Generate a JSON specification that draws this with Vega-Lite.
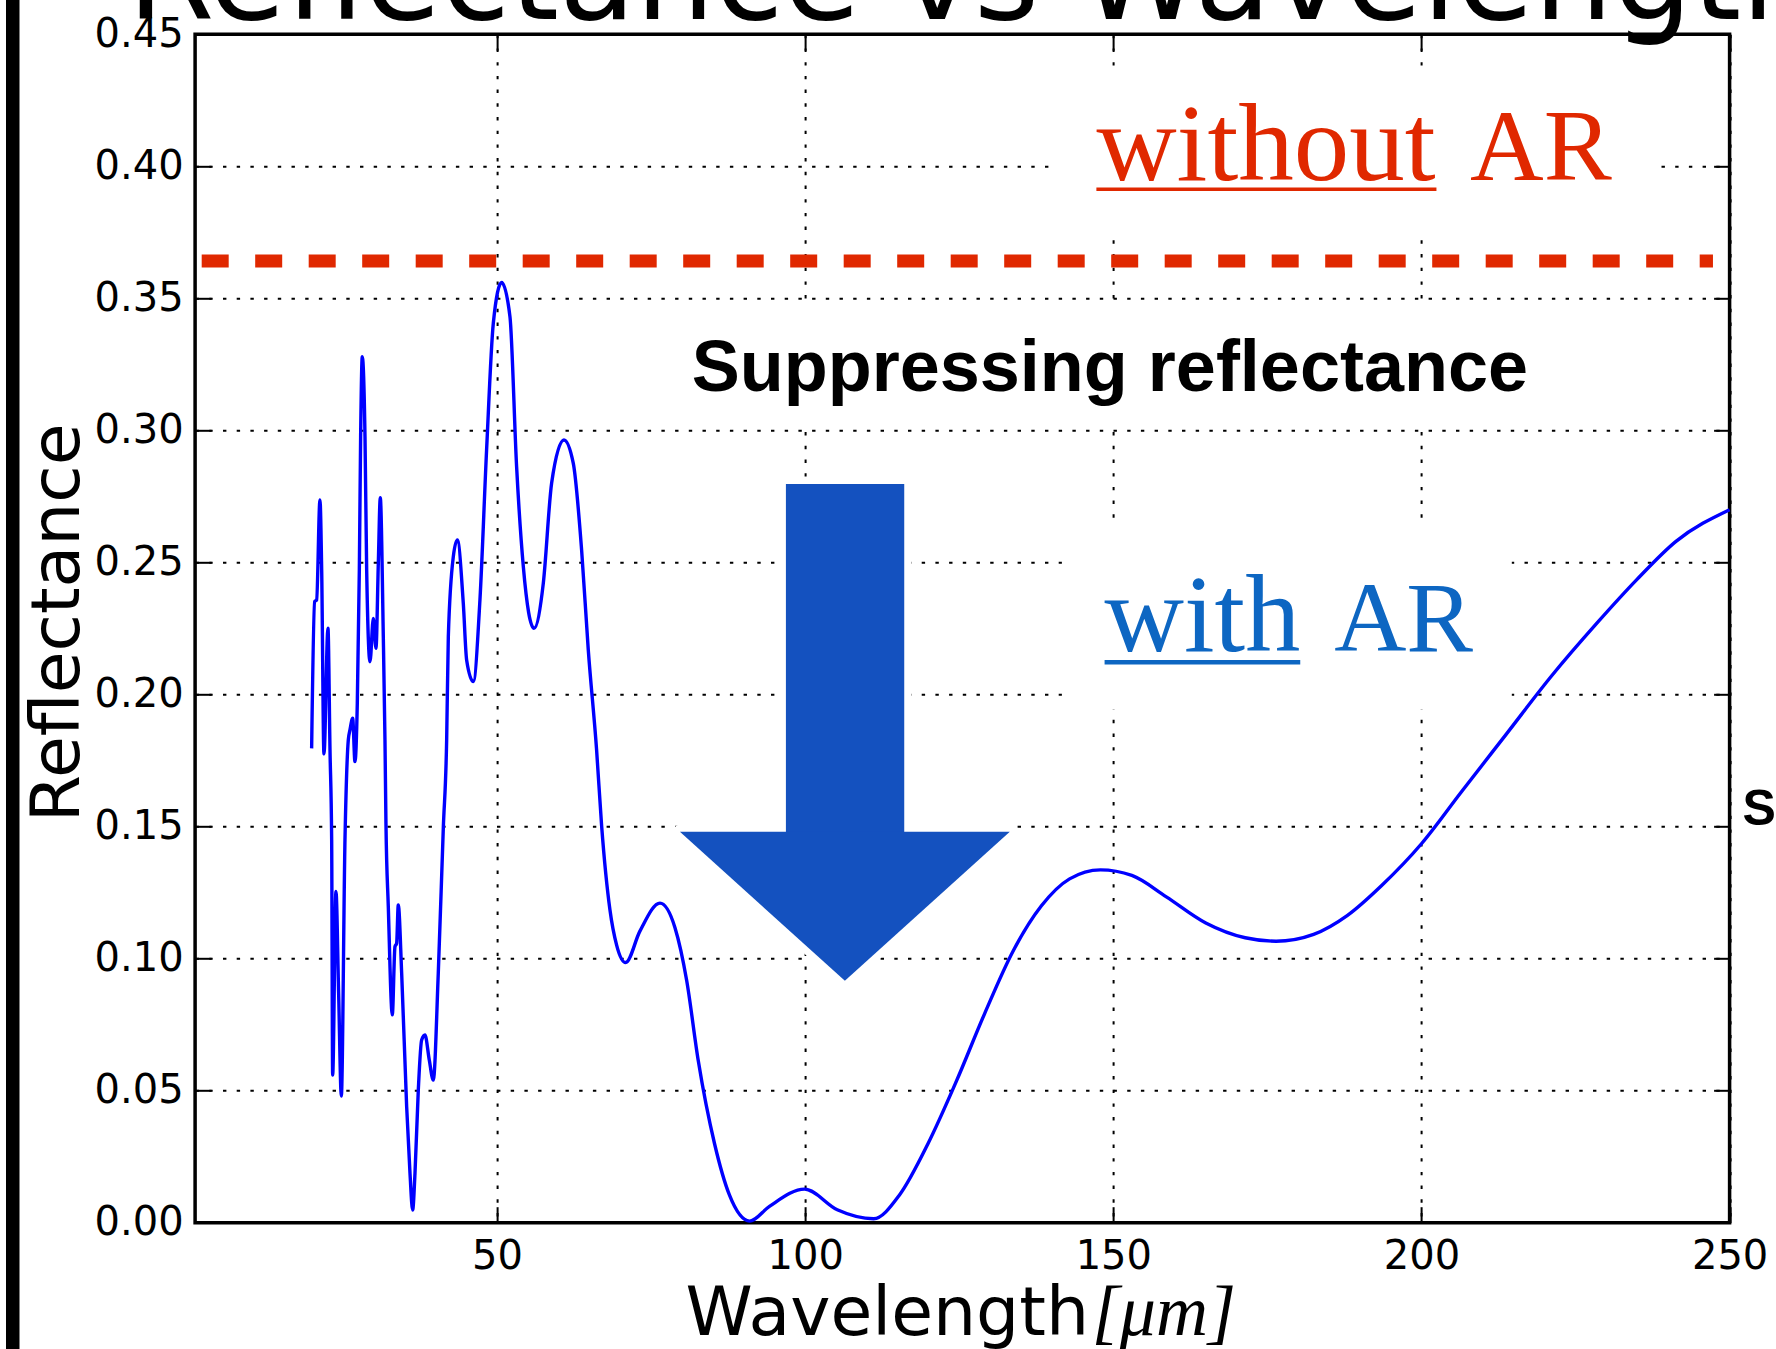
{
  "$schema": "https://vega.github.io/schema/vega-lite/v6.json",
  "autosize": {"type": "none"},
  "width": 1534.5,
  "height": 1188.4,
  "padding": {"left": 195.1, "top": 34.3, "right": 46.4, "bottom": 126.3},
  "background": "white",
  "config": {
    "view": {"stroke": "black", "strokeWidth": 3.5},
    "axis": {
      "domain": false,
      "tickColor": "black",
      "tickWidth": 2,
      "tickSize": -16,
      "gridColor": "black",
      "gridOpacity": 1,
      "gridWidth": 2,
      "gridDash": [3.4, 10.3],
      "labelFont": "DejaVu Sans",
      "labelFontSize": 40,
      "labelColor": "black",
      "labelFlush": false,
      "labelOverlap": false,
      "titleFont": "DejaVu Sans",
      "titleFontSize": 68,
      "titleFontWeight": "normal",
      "titleColor": "black"
    }
  },
  "datasets": {
    "one": [{}],
    "curve": [
      {"wavelength": 19.91, "reflectance": 0.1796},
      {"wavelength": 20.4, "reflectance": 0.2352},
      {"wavelength": 20.72, "reflectance": 0.2358},
      {"wavelength": 21.26, "reflectance": 0.2737},
      {"wavelength": 21.54, "reflectance": 0.2472},
      {"wavelength": 21.91, "reflectance": 0.1775},
      {"wavelength": 22.56, "reflectance": 0.2251},
      {"wavelength": 22.89, "reflectance": 0.179},
      {"wavelength": 23.16, "reflectance": 0.145},
      {"wavelength": 23.32, "reflectance": 0.0559},
      {"wavelength": 23.86, "reflectance": 0.1254},
      {"wavelength": 24.29, "reflectance": 0.0869},
      {"wavelength": 24.73, "reflectance": 0.048},
      {"wavelength": 25.32, "reflectance": 0.1449},
      {"wavelength": 25.86, "reflectance": 0.1828},
      {"wavelength": 26.13, "reflectance": 0.1866},
      {"wavelength": 26.57, "reflectance": 0.191},
      {"wavelength": 26.94, "reflectance": 0.1746},
      {"wavelength": 27.32, "reflectance": 0.1967},
      {"wavelength": 27.65, "reflectance": 0.2472},
      {"wavelength": 27.86, "reflectance": 0.2976},
      {"wavelength": 28.13, "reflectance": 0.3279},
      {"wavelength": 28.57, "reflectance": 0.2976},
      {"wavelength": 28.84, "reflectance": 0.2472},
      {"wavelength": 29.38, "reflectance": 0.2124},
      {"wavelength": 29.92, "reflectance": 0.2288},
      {"wavelength": 30.35, "reflectance": 0.2175},
      {"wavelength": 30.73, "reflectance": 0.2497},
      {"wavelength": 31.05, "reflectance": 0.2745},
      {"wavelength": 31.54, "reflectance": 0.2219},
      {"wavelength": 31.81, "reflectance": 0.1828},
      {"wavelength": 31.97, "reflectance": 0.1512},
      {"wavelength": 32.35, "reflectance": 0.1197},
      {"wavelength": 33.0, "reflectance": 0.0787},
      {"wavelength": 33.43, "reflectance": 0.1045},
      {"wavelength": 33.7, "reflectance": 0.1058},
      {"wavelength": 33.97, "reflectance": 0.1203},
      {"wavelength": 34.52, "reflectance": 0.0944},
      {"wavelength": 35.33, "reflectance": 0.0439},
      {"wavelength": 35.87, "reflectance": 0.0187},
      {"wavelength": 36.3, "reflectance": 0.0048},
      {"wavelength": 36.68, "reflectance": 0.0187},
      {"wavelength": 37.22, "reflectance": 0.0503},
      {"wavelength": 37.76, "reflectance": 0.0692},
      {"wavelength": 38.3, "reflectance": 0.0711},
      {"wavelength": 39.0, "reflectance": 0.0616},
      {"wavelength": 39.65, "reflectance": 0.054},
      {"wavelength": 40.46, "reflectance": 0.0945},
      {"wavelength": 41.28, "reflectance": 0.1497},
      {"wavelength": 41.82, "reflectance": 0.1828},
      {"wavelength": 42.09, "reflectance": 0.2219},
      {"wavelength": 42.9, "reflectance": 0.2522},
      {"wavelength": 43.55, "reflectance": 0.2585},
      {"wavelength": 44.52, "reflectance": 0.2345},
      {"wavelength": 45.06, "reflectance": 0.2131},
      {"wavelength": 46.14, "reflectance": 0.2049},
      {"wavelength": 47.22, "reflectance": 0.2358},
      {"wavelength": 48.3, "reflectance": 0.2926},
      {"wavelength": 49.39, "reflectance": 0.3406},
      {"wavelength": 50.74, "reflectance": 0.356},
      {"wavelength": 52.09, "reflectance": 0.3431},
      {"wavelength": 53.17, "reflectance": 0.2863},
      {"wavelength": 54.26, "reflectance": 0.2484},
      {"wavelength": 55.99, "reflectance": 0.2251},
      {"wavelength": 57.5, "reflectance": 0.2421},
      {"wavelength": 58.85, "reflectance": 0.28},
      {"wavelength": 60.85, "reflectance": 0.2964},
      {"wavelength": 62.37, "reflectance": 0.2875},
      {"wavelength": 63.72, "reflectance": 0.2547},
      {"wavelength": 64.8, "reflectance": 0.2169},
      {"wavelength": 66.15, "reflectance": 0.179},
      {"wavelength": 66.97, "reflectance": 0.1502},
      {"wavelength": 68.32, "reflectance": 0.1184},
      {"wavelength": 69.4, "reflectance": 0.1051},
      {"wavelength": 70.86, "reflectance": 0.0985},
      {"wavelength": 73.18, "reflectance": 0.1104},
      {"wavelength": 76.43, "reflectance": 0.121},
      {"wavelength": 78.87, "reflectance": 0.1117},
      {"wavelength": 80.76, "reflectance": 0.0918},
      {"wavelength": 82.65, "reflectance": 0.0613},
      {"wavelength": 85.3, "reflectance": 0.0298},
      {"wavelength": 87.7, "reflectance": 0.0105},
      {"wavelength": 91.0, "reflectance": 0.0006},
      {"wavelength": 94.2, "reflectance": 0.0062},
      {"wavelength": 99.9, "reflectance": 0.0127},
      {"wavelength": 105.2, "reflectance": 0.0049},
      {"wavelength": 111.1, "reflectance": 0.0015},
      {"wavelength": 115.3, "reflectance": 0.0105},
      {"wavelength": 119.9, "reflectance": 0.0298},
      {"wavelength": 124.5, "reflectance": 0.0534},
      {"wavelength": 129.1, "reflectance": 0.0791},
      {"wavelength": 133.7, "reflectance": 0.1027},
      {"wavelength": 138.3, "reflectance": 0.1199},
      {"wavelength": 142.9, "reflectance": 0.1302},
      {"wavelength": 147.9, "reflectance": 0.1336},
      {"wavelength": 153.0, "reflectance": 0.1315},
      {"wavelength": 158.6, "reflectance": 0.1234},
      {"wavelength": 165.0, "reflectance": 0.1135},
      {"wavelength": 171.4, "reflectance": 0.1079},
      {"wavelength": 176.4, "reflectance": 0.1066},
      {"wavelength": 182.5, "reflectance": 0.1092},
      {"wavelength": 188.0, "reflectance": 0.1164},
      {"wavelength": 193.5, "reflectance": 0.1276},
      {"wavelength": 200.0, "reflectance": 0.1435},
      {"wavelength": 206.4, "reflectance": 0.1629},
      {"wavelength": 213.8, "reflectance": 0.1851},
      {"wavelength": 221.1, "reflectance": 0.207},
      {"wavelength": 228.5, "reflectance": 0.2271},
      {"wavelength": 234.9, "reflectance": 0.2434},
      {"wavelength": 241.3, "reflectance": 0.258},
      {"wavelength": 250.0, "reflectance": 0.27}
    ],
    "arrowHead": [
      {"wavelength": 79.67, "base": 0.148, "edge": 0.148},
      {"wavelength": 106.44, "base": 0.148, "edge": 0.0916},
      {"wavelength": 133.2, "base": 0.148, "edge": 0.148}
    ]
  },
  "resolve": {"axis": {"x": "independent", "y": "independent"}},
  "layer": [
    {
      "data": {"name": "one"},
      "mark": {"type": "rule", "color": "black", "strokeWidth": 13.5, "clip": false},
      "encoding": {
        "x": {"datum": -28.59, "type": "quantitative", "scale": {"domain": [1, 250], "nice": false, "zero": false}, "axis": null},
        "y": {"datum": -0.06, "type": "quantitative", "scale": {"domain": [0, 0.45], "nice": false}, "axis": null},
        "y2": {"datum": 0.48}
      }
    },
    {
      "data": {"name": "one"},
      "mark": {"type": "rect", "fill": "white", "stroke": null},
      "encoding": {
        "x": {"datum": 139.7, "type": "quantitative", "scale": {"domain": [1, 250], "nice": false, "zero": false}, "axis": null},
        "x2": {"datum": 237.5},
        "y": {"datum": 0.4376, "type": "quantitative", "scale": {"domain": [0, 0.45], "nice": false}, "axis": null},
        "y2": {"datum": 0.3759}
      }
    },
    {
      "data": {"name": "one"},
      "mark": {"type": "rect", "fill": "white", "stroke": null},
      "encoding": {
        "x": {"datum": 141.65, "type": "quantitative", "scale": {"domain": [1, 250], "nice": false, "zero": false}, "axis": null},
        "x2": {"datum": 214.66},
        "y": {"datum": 0.2649, "type": "quantitative", "scale": {"domain": [0, 0.45], "nice": false}, "axis": null},
        "y2": {"datum": 0.1943}
      }
    },
    {
      "data": {"name": "one"},
      "mark": {"type": "rect", "fill": "white", "stroke": null},
      "encoding": {
        "x": {"datum": 78.9, "type": "quantitative", "scale": {"domain": [1, 250], "nice": false, "zero": false}, "axis": null},
        "x2": {"datum": 222.5},
        "y": {"datum": 0.3475, "type": "quantitative", "scale": {"domain": [0, 0.45], "nice": false}, "axis": null},
        "y2": {"datum": 0.302}
      }
    },
    {
      "data": {"name": "one"},
      "mark": {"type": "rect", "fill": "white", "stroke": "white", "strokeWidth": 14, "strokeJoin": "round"},
      "encoding": {
        "x": {"datum": 96.87, "type": "quantitative", "scale": {"domain": [1, 250], "nice": false, "zero": false}, "axis": null},
        "x2": {"datum": 116.07},
        "y": {"datum": 0.2797, "type": "quantitative", "scale": {"domain": [0, 0.45], "nice": false}, "axis": null},
        "y2": {"datum": 0.14}
      }
    },
    {
      "data": {"name": "arrowHead"},
      "mark": {"type": "area", "fill": "white", "stroke": "white", "strokeWidth": 14, "strokeJoin": "round", "interpolate": "linear"},
      "encoding": {
        "x": {"field": "wavelength", "type": "quantitative", "scale": {"domain": [1, 250], "nice": false, "zero": false}, "axis": null},
        "y": {"field": "base", "type": "quantitative", "scale": {"domain": [0, 0.45], "nice": false}, "axis": null},
        "y2": {"field": "edge"}
      }
    },
    {
      "data": {"name": "one"},
      "mark": {"type": "rect", "fill": "#1451bf", "stroke": null},
      "encoding": {
        "x": {"datum": 96.87, "type": "quantitative", "scale": {"domain": [1, 250], "nice": false, "zero": false}, "axis": null},
        "x2": {"datum": 116.07},
        "y": {"datum": 0.2797, "type": "quantitative", "scale": {"domain": [0, 0.45], "nice": false}, "axis": null},
        "y2": {"datum": 0.146}
      }
    },
    {
      "data": {"name": "arrowHead"},
      "mark": {"type": "area", "fill": "#1451bf", "interpolate": "linear"},
      "encoding": {
        "x": {"field": "wavelength", "type": "quantitative", "scale": {"domain": [1, 250], "nice": false, "zero": false}, "axis": null},
        "y": {"field": "base", "type": "quantitative", "scale": {"domain": [0, 0.45], "nice": false}, "axis": null},
        "y2": {"field": "edge"}
      }
    },
    {
      "data": {"name": "one"},
      "mark": {"type": "rule", "color": "#e02800", "strokeWidth": 13, "strokeDash": [27, 26.5], "strokeCap": "butt"},
      "encoding": {
        "x": {"datum": 2.07, "type": "quantitative", "scale": {"domain": [1, 250], "nice": false, "zero": false}, "axis": null},
        "x2": {"datum": 247.3},
        "y": {"datum": 0.3642, "type": "quantitative", "scale": {"domain": [0, 0.45], "nice": false}, "axis": null}
      }
    },
    {
      "data": {"name": "curve"},
      "mark": {"type": "line", "color": "#0000ff", "strokeWidth": 3.4, "interpolate": "monotone"},
      "encoding": {
        "x": {
          "field": "wavelength", "type": "quantitative",
          "scale": {"domain": [1, 250], "nice": false, "zero": false},
          "axis": {
            "orient": "bottom", "values": [50, 100, 150, 200, 250], "labelPadding": 30, "grid": true,
            "title": "Wavelength", "titleAnchor": "start", "titleAlign": "left", "titleBaseline": "alphabetic",
            "titleX": 490, "titleY": 112
          }
        },
        "y": {
          "field": "reflectance", "type": "quantitative",
          "scale": {"domain": [0, 0.45], "nice": false},
          "axis": {
            "orient": "left", "values": [0, 0.05, 0.1, 0.15, 0.2, 0.25, 0.3, 0.35, 0.4, 0.45], "format": ".2f",
            "labelPadding": 28, "grid": true,
            "title": "Reflectance", "titleAngle": 270, "titleAlign": "center", "titleBaseline": "alphabetic",
            "titleX": -117, "titleY": 588
          }
        }
      }
    },
    {
      "data": {"name": "curve"},
      "mark": {"type": "point", "opacity": 0},
      "encoding": {
        "x": {
          "field": "wavelength", "type": "quantitative",
          "scale": {"domain": [1, 250], "nice": false, "zero": false},
          "axis": {"orient": "top", "values": [50, 100, 150, 200, 250], "labels": false, "title": null, "grid": false}
        },
        "y": {
          "field": "reflectance", "type": "quantitative",
          "scale": {"domain": [0, 0.45], "nice": false},
          "axis": {"orient": "right", "values": [0, 0.05, 0.1, 0.15, 0.2, 0.25, 0.3, 0.35, 0.4, 0.45], "labels": false, "title": null, "grid": false}
        }
      }
    },
    {
      "data": {"name": "one"},
      "mark": {"type": "text", "text": "without", "font": "Liberation Serif", "fontSize": 111, "color": "#e02800", "align": "left", "baseline": "alphabetic"},
      "encoding": {
        "x": {"datum": 147.25, "type": "quantitative", "scale": {"domain": [1, 250], "nice": false, "zero": false}, "axis": null},
        "y": {"datum": 0.3948, "type": "quantitative", "scale": {"domain": [0, 0.45], "nice": false}, "axis": null}
      }
    },
    {
      "data": {"name": "one"},
      "mark": {"type": "text", "text": "AR", "font": "Liberation Serif", "fontSize": 102, "color": "#e02800", "align": "left", "baseline": "alphabetic"},
      "encoding": {
        "x": {"datum": 207.88, "type": "quantitative", "scale": {"domain": [1, 250], "nice": false, "zero": false}, "axis": null},
        "y": {"datum": 0.3948, "type": "quantitative", "scale": {"domain": [0, 0.45], "nice": false}, "axis": null}
      }
    },
    {
      "data": {"name": "one"},
      "mark": {"type": "rule", "color": "#e02800", "strokeWidth": 3.5},
      "encoding": {
        "x": {"datum": 147.25, "type": "quantitative", "scale": {"domain": [1, 250], "nice": false, "zero": false}, "axis": null},
        "x2": {"datum": 202.43},
        "y": {"datum": 0.3913, "type": "quantitative", "scale": {"domain": [0, 0.45], "nice": false}, "axis": null}
      }
    },
    {
      "data": {"name": "one"},
      "mark": {"type": "text", "text": "with", "font": "Liberation Serif", "fontSize": 110, "color": "#0d66c2", "align": "left", "baseline": "alphabetic"},
      "encoding": {
        "x": {"datum": 148.58, "type": "quantitative", "scale": {"domain": [1, 250], "nice": false, "zero": false}, "axis": null},
        "y": {"datum": 0.2165, "type": "quantitative", "scale": {"domain": [0, 0.45], "nice": false}, "axis": null}
      }
    },
    {
      "data": {"name": "one"},
      "mark": {"type": "text", "text": "AR", "font": "Liberation Serif", "fontSize": 100, "color": "#0d66c2", "align": "left", "baseline": "alphabetic"},
      "encoding": {
        "x": {"datum": 185.83, "type": "quantitative", "scale": {"domain": [1, 250], "nice": false, "zero": false}, "axis": null},
        "y": {"datum": 0.2165, "type": "quantitative", "scale": {"domain": [0, 0.45], "nice": false}, "axis": null}
      }
    },
    {
      "data": {"name": "one"},
      "mark": {"type": "rule", "color": "#0d66c2", "strokeWidth": 4.5},
      "encoding": {
        "x": {"datum": 148.58, "type": "quantitative", "scale": {"domain": [1, 250], "nice": false, "zero": false}, "axis": null},
        "x2": {"datum": 180.33},
        "y": {"datum": 0.2122, "type": "quantitative", "scale": {"domain": [0, 0.45], "nice": false}, "axis": null}
      }
    },
    {
      "data": {"name": "one"},
      "mark": {"type": "text", "text": "Suppressing reflectance", "font": "Liberation Sans", "fontWeight": "bold", "fontSize": 72, "color": "black", "align": "center", "baseline": "alphabetic"},
      "encoding": {
        "x": {"datum": 149.44, "type": "quantitative", "scale": {"domain": [1, 250], "nice": false, "zero": false}, "axis": null},
        "y": {"datum": 0.3149, "type": "quantitative", "scale": {"domain": [0, 0.45], "nice": false}, "axis": null}
      }
    },
    {
      "data": {"name": "one"},
      "mark": {"type": "text", "text": "Si", "font": "Liberation Sans", "fontWeight": "bold", "fontSize": 50, "color": "black", "align": "left", "baseline": "alphabetic"},
      "encoding": {
        "x": {"datum": 252.1, "type": "quantitative", "scale": {"domain": [1, 250], "nice": false, "zero": false}, "axis": null},
        "y": {"datum": 0.1506, "type": "quantitative", "scale": {"domain": [0, 0.45], "nice": false}, "axis": null}
      }
    },
    {
      "data": {"name": "one"},
      "mark": {"type": "text", "text": "[μm]", "font": "Liberation Serif", "fontStyle": "italic", "fontSize": 72, "color": "black", "align": "left", "baseline": "alphabetic"},
      "encoding": {
        "x": {"datum": 146.5, "type": "quantitative", "scale": {"domain": [1, 250], "nice": false, "zero": false}, "axis": null},
        "y": {"datum": -0.0425, "type": "quantitative", "scale": {"domain": [0, 0.45], "nice": false}, "axis": null}
      }
    },
    {
      "data": {"name": "one"},
      "mark": {"type": "text", "text": "Reflectance vs Wavelength", "font": "DejaVu Sans", "fontSize": 125, "color": "black", "align": "left", "baseline": "alphabetic"},
      "encoding": {
        "x": {"datum": -9.98, "type": "quantitative", "scale": {"domain": [1, 250], "nice": false, "zero": false}, "axis": null},
        "y": {"datum": 0.4558, "type": "quantitative", "scale": {"domain": [0, 0.45], "nice": false}, "axis": null}
      }
    }
  ]
}
